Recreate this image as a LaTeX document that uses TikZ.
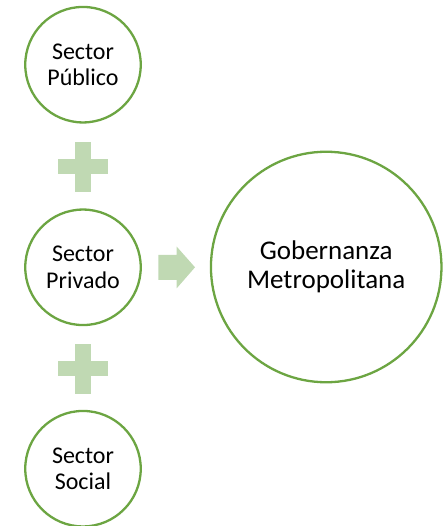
\documentclass[tikz,border=0pt]{standalone}
\usepackage{fontspec}
\setmainfont{Carlito}
\definecolor{ringgreen}{RGB}{108,165,66}
\definecolor{softgreen}{RGB}{192,217,179}
\begin{document}
\begin{tikzpicture}[x=1pt,y=-1pt,
  sector/.style={circle,draw=ringgreen,line width=2.3pt,fill=white,minimum size=115.5pt,inner sep=0pt,align=center,font=\fontsize{24}{26.7}\selectfont},
  bigsector/.style={circle,draw=ringgreen,line width=2.3pt,fill=white,minimum size=230.5pt,inner sep=0pt,align=center,font=\fontsize{27}{29.5}\selectfont},
  plusfill/.style={fill=softgreen}]
\useasboundingbox (0,0) rectangle (443,526);
\node[sector] (pub) at (83,64.7) {Sector\\Público};
\node[sector] (priv) at (83,267.3) {Sector\\Privado};
\node[sector] (soc) at (83,468.7) {Sector\\Social};
\node[bigsector] (gob) at (326.2,267) {Gobernanza\\Metropolitana};
% plus signs
\coordinate (p1) at (83,166.7);
\coordinate (p2) at (83,368.5);
\foreach \p in {p1,p2}{
  \fill[plusfill] ([xshift=-8pt,yshift=25pt]\p) rectangle ([xshift=8pt,yshift=-25pt]\p);
  \fill[plusfill] ([xshift=-25pt,yshift=7.5pt]\p) rectangle ([xshift=25pt,yshift=-7.5pt]\p);
}
% arrow
\coordinate (ar) at (158.3,267.3);
\fill[plusfill] (ar) ++(0,-12.5) -- ++(18.4,0) -- ++(0,-8.2) -- (195,267.3) -- (176.7,288.3) -- (176.7,279.8) -- (158.3,279.8) -- cycle;
\end{tikzpicture}
\end{document}
